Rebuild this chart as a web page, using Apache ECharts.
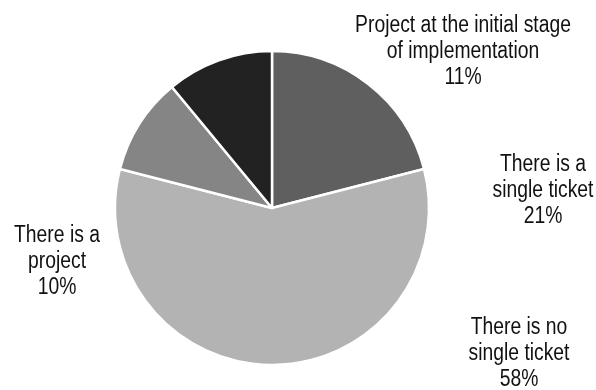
<!DOCTYPE html>
<html>
<head>
<meta charset="utf-8">
<style>
  html, body { margin: 0; padding: 0; background: #ffffff; }
  #chart { width: 596px; height: 390px; }
</style>
<script src="https://cdn.jsdelivr.net/npm/echarts@6/dist/echarts.min.js"></script>
</head>
<body>
<div id="chart"></div>
<script>
// Survey answers, clockwise from 12 o'clock
var categories = [
  'There is a\nsingle ticket',
  'There is no\nsingle ticket',
  'There is a\nproject',
  'Project at the initial stage\nof implementation'
];
var shares = [21, 58, 10, 11];
var sliceColors = ['#5f5f5f', '#b3b3b3', '#858585', '#222222'];

// Centre of each caption block (px)
var labelSpots = [
  [543, 191],
  [519, 354],
  [57, 262],
  [463, 52]
];

var chart = echarts.init(document.getElementById('chart'), null, { renderer: 'canvas' });

// Captions use a narrowed sans face: regular sans squeezed horizontally
var captions = categories.map(function (name, i) {
  return {
    type: 'text',
    x: labelSpots[i][0],
    y: labelSpots[i][1],
    scaleX: 0.84,
    silent: true,
    style: {
      text: name + '\n' + shares[i] + '%',
      font: '23px "Liberation Sans", Arial, sans-serif',
      lineHeight: 26,
      fill: '#111111',
      textAlign: 'center',
      textVerticalAlign: 'middle'
    }
  };
});

chart.setOption({
  animation: false,
  backgroundColor: '#ffffff',
  graphic: captions,
  series: [{
    type: 'pie',
    center: [272, 208],
    radius: [0, 157],
    startAngle: 90,
    clockwise: true,
    data: categories.map(function (name, i) {
      return { name: name, value: shares[i], itemStyle: { color: sliceColors[i] } };
    }),
    itemStyle: { borderColor: '#ffffff', borderWidth: 2.5 },
    label: { show: false },
    labelLine: { show: false },
    emphasis: { disabled: true }
  }]
});
</script>
</body>
</html>
